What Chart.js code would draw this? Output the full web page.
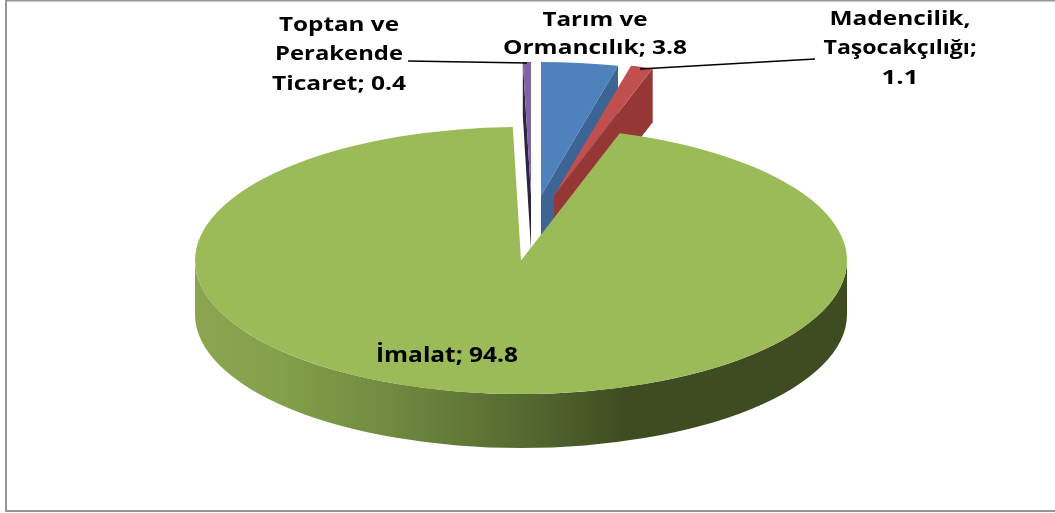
<!DOCTYPE html>
<html><head><meta charset="utf-8">
<style>html,body{margin:0;padding:0;background:#fff}canvas{display:block}</style>
<script src="https://cdn.jsdelivr.net/npm/chart.js@4"></script>
</head><body><canvas id="c" width="1055" height="513"></canvas>
<script>
const categories = ['Tarım ve Ormancılık','Madencilik, Taşocakçılığı','İmalat','Toptan ve Perakende Ticaret'];
const values = [3.8,1.1,94.8,0.4];
const colors = ['#4f81bd','#c0504d','#9bbb59','#8064a2'];
const sideColors = ['#3c6494','#953735','#3f4c22','#2e2340'];
const labelLines = [['Tarım ve','Ormancılık; 3.8'],['Madencilik,','Taşocakçılığı;','1.1'],['İmalat; 94.8'],['Toptan ve','Perakende','Ticaret; 0.4']];
const labelPos = [[595,20,28],[900,19,29.5],[447,356,0],[339,25,29.5]];
const labelWidths = [[105,184],[141,153,37],[142],[120,128,134]];
const labelFont = [20,20,21,20];
const leaders = [null,[[640,69],[815,59]],null,[[408,61],[527,63]]];
const explode = [[20,-65],[33,-65],[0,0],[10,-65]]; // screen px
const CX=521, CY=260.5, K=133.5/326, DEPTH=54;

const pie3d = {
  id:'pie3d',
  beforeDatasetsDraw(chart){
    const ctx=chart.ctx, arcs=chart.getDatasetMeta(0).data;
    const ac=arcs[2];
    const ox=(chart.chartArea.left+chart.chartArea.right)/2, oy=(chart.chartArea.top+chart.chartArea.bottom)/2;
    const R=ac.outerRadius, ry=R*K;
    ctx.save();
    // frame: the reference shows top, left and bottom edges only
    ctx.strokeStyle='#969696';ctx.lineWidth=2;
    ctx.beginPath();ctx.moveTo(1055,0.5);ctx.lineTo(6,0.5);ctx.lineTo(6,511);ctx.lineTo(1055,511);ctx.stroke();
    // cut faces of the exploded slices
    [[0,'endAngle'],[1,'endAngle'],[3,'startAngle']].forEach(([i,key])=>{
      const a=arcs[i][key], ax=CX+explode[i][0], ay=CY+explode[i][1];
      const px=ax+Math.cos(a)*R, py=ay+Math.sin(a)*ry;
      ctx.fillStyle=sideColors[i];
      ctx.beginPath();ctx.moveTo(ax,ay);ctx.lineTo(px,py);ctx.lineTo(px,py+DEPTH);ctx.lineTo(ax,ay+DEPTH);ctx.closePath();ctx.fill();
    });
    // rim of the large slice
    const g=ctx.createLinearGradient(CX-R,0,CX+R,0);
    g.addColorStop(0,'#8ba550');g.addColorStop(0.13,'#83a04a');g.addColorStop(0.3,'#708a40');
    g.addColorStop(0.5,'#556a30');g.addColorStop(0.66,'#3f4c22');g.addColorStop(1,'#3f4c22');
    ctx.fillStyle=g;
    ctx.beginPath();ctx.ellipse(CX,CY+DEPTH,R,ry,0,0,Math.PI);
    ctx.lineTo(CX-R,CY);ctx.ellipse(CX,CY,R,ry,0,Math.PI,0,true);ctx.closePath();ctx.fill();
    ctx.restore();
    // tops: squash the library's own arcs into the ellipse
    arcs.forEach((el,i)=>{el.x=ox+explode[i][0];el.y=oy+explode[i][1]/K;});
    ctx.save();
    ctx.translate(CX,CY);ctx.scale(1,K);ctx.translate(-ox,-oy);
  },
  afterDatasetsDraw(chart){
    const ctx=chart.ctx;
    ctx.restore();
    ctx.save();
    ctx.strokeStyle='#000';ctx.lineWidth=1.5;
    leaders.forEach(l=>{if(!l)return;ctx.beginPath();ctx.moveTo(l[0][0],l[0][1]);ctx.lineTo(l[1][0],l[1][1]);ctx.stroke();});
    ctx.fillStyle='#000';ctx.textAlign='center';ctx.textBaseline='middle';
    labelLines.forEach((ls,i)=>{
      const [x,y,dy]=labelPos[i];
      ctx.font='bold '+labelFont[i]+'px "Open Sans"';
      ls.forEach((t,j)=>{
        const sx=labelWidths[i][j]/ctx.measureText(t).width;
        ctx.save();ctx.translate(x,y+j*dy);ctx.scale(sx,1);ctx.fillText(t,0,0);ctx.restore();
      });
    });
    ctx.restore();
  }
};
new Chart(document.getElementById('c'),{
  type:'pie',
  data:{labels:categories,datasets:[{data:values,backgroundColor:colors,borderWidth:0,clip:false}]},
  options:{responsive:false,animation:false,events:[],radius:326,rotation:0,
    layout:{padding:0},plugins:{legend:{display:false},tooltip:{enabled:false},title:{display:false}}},
  plugins:[pie3d]
});
</script></body></html>
